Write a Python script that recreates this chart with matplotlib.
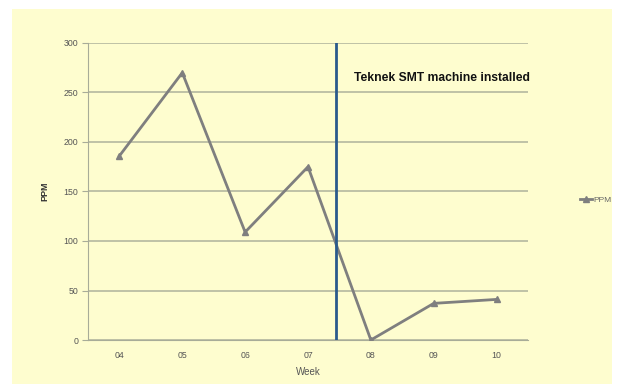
import matplotlib
matplotlib.use('Agg')
import matplotlib.pyplot as plt
from matplotlib.patches import Rectangle

weeks = ['04', '05', '06', '07', '08', '09', '10']
ppm = [186, 270, 109, 175, 0, 37, 41]
install_pos = 3.45  # between week 07 and 08

plt.rcParams['font.family'] = ['Liberation Sans', 'DejaVu Sans']

bg = '#fefdcf'
fig = plt.figure(figsize=(6.18, 3.88), dpi=100)
fig.patch.set_facecolor('white')
fig.patches.append(Rectangle((12 / 618, 4 / 388), 600 / 618, 375 / 388,
                             transform=fig.transFigure, facecolor=bg,
                             edgecolor='none', zorder=-5))

ax = fig.add_axes([88 / 618, 48 / 388, 440 / 618, 297 / 388])
ax.set_facecolor(bg)

x = list(range(len(weeks)))
ax.plot(x, ppm, color='#7f7f7f', lw=2, marker='^', ms=5, label='PPM', zorder=3)
ax.axvline(install_pos, color='#2a5a8c', lw=2, zorder=4)
ax.text(install_pos + 0.28, 265, 'Teknek SMT machine installed',
        fontsize=8.7, fontweight='bold', color='#111111', va='center')

ax.set_xlim(-0.5, 6.5)
ax.set_ylim(0, 300)
ax.set_yticks(range(0, 301, 50))
ax.set_xticks(x)
ax.set_xticklabels(weeks)
ax.grid(axis='y', color='#b4b8a0', lw=1.2)
ax.set_axisbelow(True)
for s in ['top', 'right']:
    ax.spines[s].set_visible(False)
for s in ['left', 'bottom']:
    ax.spines[s].set_color('#a8ac98')
ax.tick_params(labelsize=6.3, colors='#555555', length=0, pad=8)
ax.tick_params(axis='y', length=4, color='#a8ac98', pad=3)

ax.set_xlabel('Week', fontsize=7, color='#555555', labelpad=5)
ax.set_ylabel('PPM', fontsize=6.5, fontweight='bold', color='#333333', labelpad=10)

ax.legend(loc='center left', bbox_to_anchor=(1.1, 0.47), frameon=False,
          fontsize=6, labelcolor='#666666', handlelength=1.5, handletextpad=0.2,
          markerscale=0.8)

fig.savefig('out.png', dpi=100, facecolor='white')
